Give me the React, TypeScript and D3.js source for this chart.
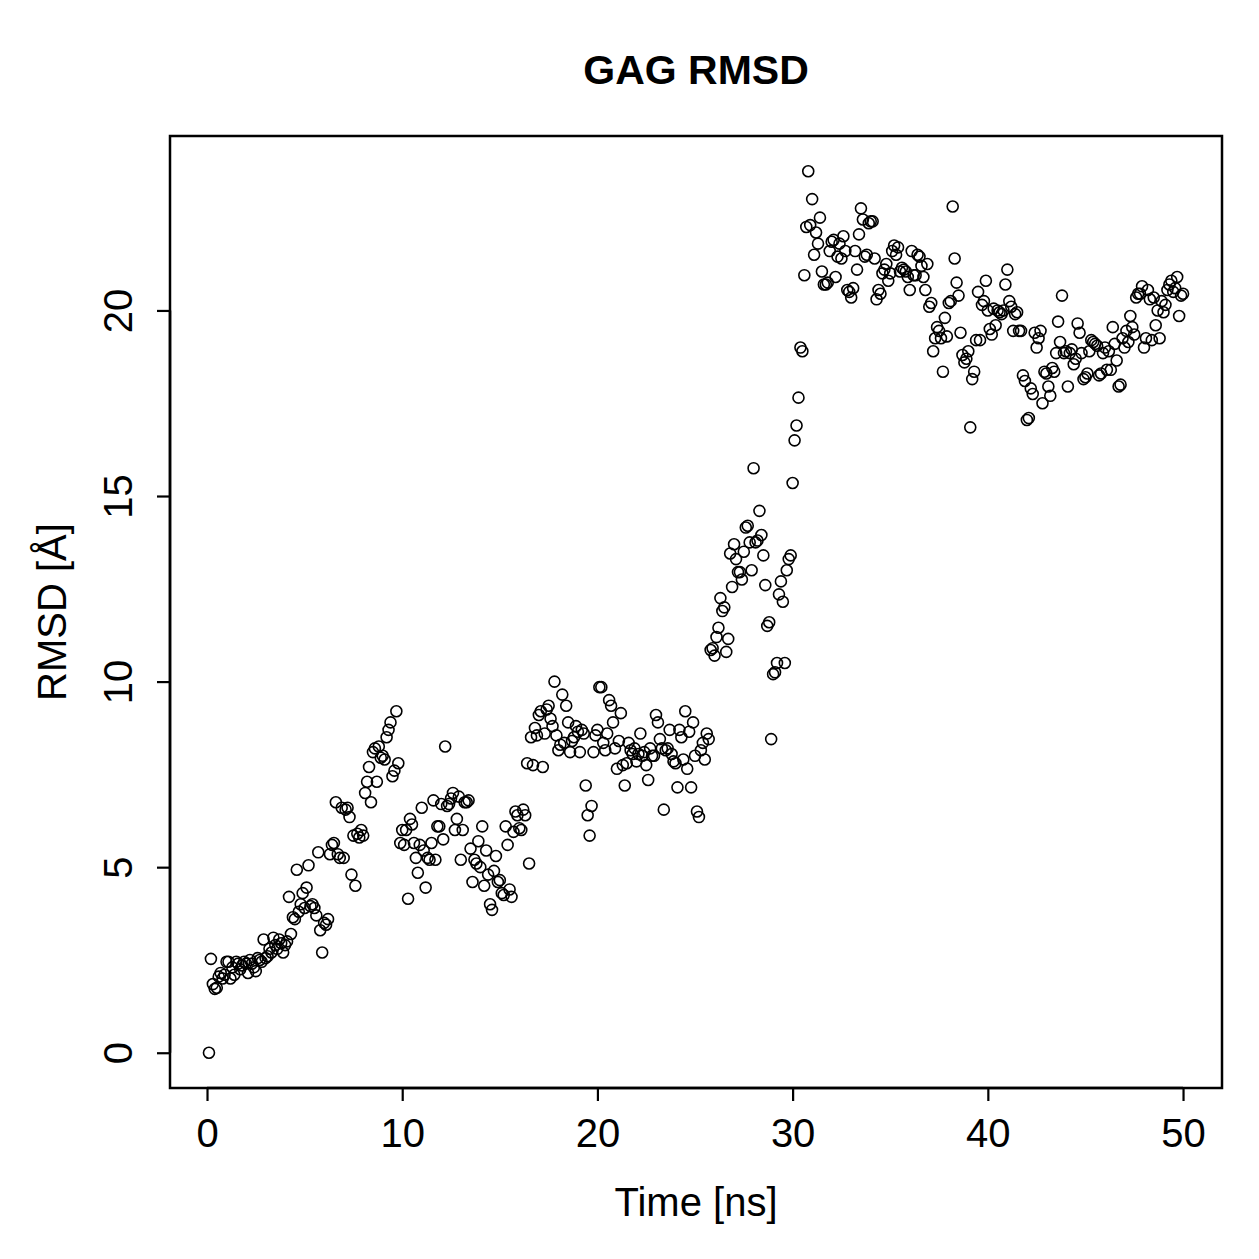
import { useEffect, useRef } from "react";
import * as d3 from "d3";

// GAG RMSD trajectory, one frame every 0.1 ns (frames 1..500)
const TIME_STEP = 0.1;
const rmsd: number[] = [
  // 0-10 ns
  0, 2.53, 1.85, 1.72, 1.75, 2.05, 2.15, 2.0, 2.1, 2.45,
  2.45, 2.0, 2.3, 2.1, 2.45, 2.4, 2.25, 2.35, 2.45, 2.4,
  2.15, 2.5, 2.4, 2.3, 2.2, 2.55, 2.5, 2.45, 3.05, 2.55,
  2.6, 2.8, 2.7, 3.1, 2.9, 2.8, 3.05, 2.95, 2.7, 2.9,
  3.0, 4.2, 3.2, 3.65, 3.6, 4.93, 3.8, 4.0, 4.3, 3.9,
  4.45, 5.05, 3.95, 4.0, 3.9, 3.7, 5.4, 3.3, 2.7, 3.5,
  3.45, 3.6, 5.35, 5.6, 5.65, 6.75, 5.35, 5.25, 6.6, 5.25,
  6.55, 6.6, 6.35, 4.8, 5.85, 4.5, 5.9, 5.8, 6.0, 5.85,
  7.0, 7.3, 7.7, 6.75, 8.1, 8.2, 7.3, 8.25, 7.95, 8.0,
  7.9, 8.5, 8.7, 8.9, 7.45, 7.6, 9.2, 7.8, 5.65, 6.0,
  // 10-20 ns
  5.6, 6.0, 4.15, 6.3, 6.15, 5.65, 5.25, 4.85, 5.6, 6.6,
  5.45, 4.45, 5.25, 5.2, 5.65, 6.8, 5.2, 6.1, 6.1, 6.7,
  5.75, 8.25, 6.65, 6.7, 6.85, 7.0, 6.0, 6.3, 6.9, 5.2,
  6.0, 6.75, 6.75, 6.8, 5.5, 4.6, 5.2, 5.1, 5.7, 5.0,
  6.1, 4.5, 5.45, 4.8, 4.0, 3.85, 4.9, 5.3, 4.6, 4.65,
  4.3, 4.25, 6.1, 5.6, 4.4, 4.2, 5.95, 6.5, 6.4, 6.05,
  6.0, 6.55, 6.4, 7.8, 5.1, 8.5, 7.75, 8.75, 8.55, 9.1,
  9.2, 7.7, 8.6, 9.25, 9.35, 9.0, 8.8, 10.0, 8.55, 8.15,
  8.3, 9.65, 8.35, 9.35, 8.9, 8.1, 8.4, 8.5, 8.8, 8.65,
  8.1, 8.7, 8.6, 7.2, 6.4, 5.85, 6.65, 8.1, 8.55, 8.7,
  // 20-30 ns
  9.85, 9.85, 8.35, 8.15, 8.6, 9.5, 9.35, 8.9, 8.2, 7.65,
  8.4, 9.15, 7.75, 7.2, 7.8, 8.35, 8.15, 8.05, 8.2, 7.85,
  8.05, 8.6, 8.0, 8.1, 7.75, 7.35, 8.2, 8.0, 8.0, 9.1,
  8.9, 8.45, 8.2, 6.55, 8.15, 8.2, 8.7, 8.05, 7.85, 7.8,
  7.15, 8.7, 8.5, 7.9, 9.2, 7.65, 8.65, 7.15, 8.9, 8.0,
  6.5, 6.35, 8.15, 8.35, 7.9, 8.6, 8.45, 10.85, 10.9, 10.7,
  11.2, 11.45, 12.25, 11.9, 12.0, 10.8, 11.15, 13.45, 12.55, 13.7,
  13.3, 12.95, 12.95, 12.75, 13.5, 14.15, 14.2, 13.75, 13.0, 15.75,
  13.75, 13.8, 14.6, 13.95, 13.4, 12.6, 11.5, 11.6, 8.45, 10.2,
  10.25, 10.5, 12.35, 12.7, 12.15, 10.5, 13.0, 13.3, 13.4, 15.35,
  // 30-40 ns
  16.5, 16.9, 17.65, 19.0, 18.9, 20.95, 22.25, 23.75, 22.3, 23.0,
  21.5, 22.1, 21.8, 22.5, 21.05, 20.7, 20.7, 20.75, 21.6, 21.85,
  21.9, 20.9, 21.45, 21.8, 21.4, 22.0, 21.6, 20.55, 20.5, 20.35,
  20.6, 21.6, 21.1, 22.05, 22.75, 22.45, 21.45, 21.5, 22.35, 22.4,
  22.4, 21.4, 20.3, 20.55, 20.45, 21.0, 21.1, 21.25, 20.8, 21.0,
  21.6, 21.75, 21.5, 21.7, 21.05, 21.15, 21.1, 21.05, 20.9, 20.55,
  21.6, 20.95, 20.95, 21.5, 21.45, 21.2, 20.9, 20.55, 21.25, 20.1,
  20.2, 18.9, 19.25, 19.55, 19.45, 19.25, 18.35, 19.8, 19.3, 20.2,
  20.25, 22.8, 21.4, 20.75, 20.4, 19.4, 18.8, 18.6, 18.7, 18.9,
  16.85, 18.15, 18.35, 19.2, 20.5, 19.2, 20.15, 20.25, 20.8, 20.0,
  // 40-50 ns
  19.5, 19.35, 20.05, 19.6, 20.0, 19.95, 19.9, 20.0, 20.7, 21.1,
  20.25, 20.1, 19.45, 19.9, 19.95, 19.45, 19.45, 18.25, 18.1, 17.05,
  17.1, 17.9, 17.75, 19.4, 19.0, 19.25, 19.45, 17.5, 18.35, 18.3,
  17.95, 17.7, 18.45, 18.35, 18.85, 19.7, 19.15, 20.4, 18.85, 18.9,
  17.95, 18.85, 18.95, 18.55, 18.7, 19.65, 19.4, 18.85, 18.15, 18.2,
  18.3, 18.9, 19.2, 19.15, 19.1, 19.05, 18.25, 18.3, 18.85, 19.0,
  18.4, 18.9, 18.4, 19.55, 19.1, 18.65, 17.95, 18.0, 19.25, 19.0,
  19.45, 19.15, 19.85, 19.55, 19.35, 20.35, 20.45, 20.45, 20.65, 19.0,
  19.25, 20.55, 20.3, 19.2, 20.35, 19.6, 20.0, 19.25, 20.25, 19.95,
  20.15, 20.55, 20.7, 20.8, 20.5, 20.6, 20.9, 19.85, 20.4, 20.45,
];

const xTicks = [0, 10, 20, 30, 40, 50];
const yTicks = [0, 5, 10, 15, 20];
const TITLE = "GAG RMSD";
const X_LABEL = "Time [ns]";
const Y_LABEL = "RMSD [Å]";

const WIDTH = 1259;
const HEIGHT = 1259;
const FONT = "'Liberation Sans', Arial, Helvetica, sans-serif";

export default function App() {
  const ref = useRef<SVGSVGElement | null>(null);

  useEffect(() => {
    if (!ref.current) return;
    const svg = d3.select(ref.current);
    svg.selectAll("*").remove();

    const margin = { top: 136, right: 37, bottom: 171, left: 170 };
    const points = rmsd.map((v, i) => ({ t: (i + 1) * TIME_STEP, v }));

    // R-style 4% padding around the data range
    const [tMin, tMax] = d3.extent(points, d => d.t) as [number, number];
    const [vMin, vMax] = d3.extent(points, d => d.v) as [number, number];
    const tPad = (tMax - tMin) * 0.04;
    const vPad = (vMax - vMin) * 0.04;

    const x = d3.scaleLinear()
      .domain([tMin - tPad, tMax + tPad])
      .range([margin.left, WIDTH - margin.right]);
    const y = d3.scaleLinear()
      .domain([vMin - vPad, vMax + vPad])
      .range([HEIGHT - margin.bottom, margin.top]);

    svg.append("rect")
      .attr("width", WIDTH)
      .attr("height", HEIGHT)
      .attr("fill", "white");

    // Points (open circles)
    svg.append("g")
      .selectAll("circle")
      .data(points)
      .enter()
      .append("circle")
      .attr("cx", d => x(d.t))
      .attr("cy", d => y(d.v))
      .attr("r", 5.5)
      .attr("fill", "none")
      .attr("stroke", "black")
      .attr("stroke-width", 1.6);

    // Plot box
    svg.append("rect")
      .attr("x", margin.left)
      .attr("y", margin.top)
      .attr("width", WIDTH - margin.left - margin.right)
      .attr("height", HEIGHT - margin.top - margin.bottom)
      .attr("fill", "none")
      .attr("stroke", "black")
      .attr("stroke-width", 2.5);

    const tickLen = 13;
    const bottomY = HEIGHT - margin.bottom;

    // X axis
    const xAxis = svg.append("g")
      .attr("transform", `translate(0,${bottomY})`)
      .call(d3.axisBottom(x).tickValues(xTicks).tickSize(tickLen).tickPadding(18).tickFormat(d3.format("d")));
    xAxis.select(".domain")
      .attr("d", `M${x(xTicks[0])},0H${x(xTicks[xTicks.length - 1])}`)
      .attr("stroke-width", 2.5);
    xAxis.selectAll(".tick line").attr("stroke-width", 2.2);
    xAxis.selectAll(".tick text")
      .attr("font-family", FONT)
      .attr("font-size", 40)
      .attr("fill", "black");

    // Y axis, labels turned to read bottom-up
    const yAxis = svg.append("g")
      .attr("transform", `translate(${margin.left},0)`)
      .call(d3.axisLeft(y).tickValues(yTicks).tickSize(tickLen).tickFormat(d3.format("d")));
    yAxis.select(".domain")
      .attr("d", `M0,${y(yTicks[0])}V${y(yTicks[yTicks.length - 1])}`)
      .attr("stroke-width", 2.5);
    yAxis.selectAll(".tick line").attr("stroke-width", 2.2);
    yAxis.selectAll(".tick text")
      .attr("font-family", FONT)
      .attr("font-size", 40)
      .attr("fill", "black")
      .attr("x", null)
      .attr("dy", null)
      .attr("transform", "translate(-38,0) rotate(-90)")
      .attr("text-anchor", "middle");

    svg.selectAll(".domain").attr("stroke", "black");
    svg.selectAll(".tick line").attr("stroke", "black");

    // Axis titles
    svg.append("text")
      .attr("x", (margin.left + WIDTH - margin.right) / 2)
      .attr("y", 1216)
      .attr("text-anchor", "middle")
      .attr("font-family", FONT)
      .attr("font-size", 40)
      .text(X_LABEL);

    svg.append("text")
      .attr("transform", `translate(66,${(margin.top + bottomY) / 2}) rotate(-90)`)
      .attr("text-anchor", "middle")
      .attr("font-family", FONT)
      .attr("font-size", 40)
      .text(Y_LABEL);

    // Title
    svg.append("text")
      .attr("x", (margin.left + WIDTH - margin.right) / 2)
      .attr("y", 84)
      .attr("text-anchor", "middle")
      .attr("font-family", FONT)
      .attr("font-weight", "bold")
      .attr("font-size", 41)
      .text(TITLE);
  }, []);

  return (
    <svg
      ref={ref}
      width={WIDTH}
      height={HEIGHT}
      style={{ position: "absolute", left: 0, top: 0 }}
    />
  );
}
